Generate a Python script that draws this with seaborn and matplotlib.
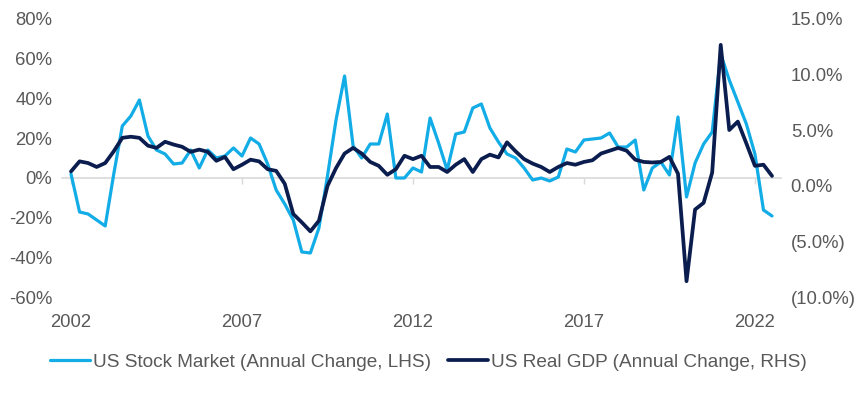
import numpy as np
import pandas as pd
import matplotlib
matplotlib.use('Agg')
import matplotlib.pyplot as plt
import seaborn as sns
from matplotlib.ticker import FuncFormatter

# Quarterly annual changes (first point = 2002)
stock_change = [
    2, -17, -18, -21, -24, 2, 26, 31, 39, 21,
    14, 12, 7, 7.5, 14, 5, 14, 10, 11, 15,
    11, 20, 17, 7, -6, -13, -21, -37, -37.5, -25,
    1, 29, 51, 16, 10, 17, 17, 32, 0, 0,
    5, 3, 30, 17.5, 4, 22, 23, 35, 37, 25,
    18, 12, 10, 5, -1, 0, -1.5, 0.5, 14.5, 13,
    19, 19.5, 20, 22.5, 15.5, 15.5, 19, -6, 5, 8,
    1.5, 30.5, -9.5, 7.5, 17, 23, 62, 49, 38, 27,
    12, -16, -19,
]
gdp_change = [
    1.3, 2.2, 2.05, 1.7, 2.05, 3.1, 4.3, 4.4, 4.3, 3.6,
    3.4, 3.95, 3.7, 3.5, 3.05, 3.25, 3.05, 2.25, 2.6, 1.5,
    1.9, 2.35, 2.2, 1.5, 1.35, 0.2, -2.5, -3.25, -4.05, -3.1,
    0.0, 1.6, 2.9, 3.4, 2.9, 2.15, 1.8, 1.0, 1.5, 2.7,
    2.4, 2.7, 1.7, 1.7, 1.25, 1.9, 2.4, 1.25, 2.4, 2.8,
    2.55, 3.9, 3.1, 2.4, 2.0, 1.7, 1.25, 1.7, 2.05, 1.9,
    2.15, 2.3, 2.9, 3.15, 3.4, 3.15, 2.35, 2.15, 2.1, 2.15,
    2.6, 1.1, -8.5, -2.1, -1.5, 1.2, 12.6, 5.0, 5.75, 3.8,
    1.8, 1.9, 0.9,
]
first_year = 2002
year_ticks = [2002, 2007, 2012, 2017, 2022]
left_ticks = [-60, -40, -20, 0, 20, 40, 60, 80]
right_ticks = [-10, -5, 0, 5, 10, 15]

stock_label = 'US Stock Market (Annual Change, LHS)'
gdp_label = 'US Real GDP (Annual Change, RHS)'

quarters = first_year + np.arange(len(stock_change)) * 0.25
df = pd.DataFrame({'quarter': quarters, 'stock': stock_change, 'gdp': gdp_change})

sns.set_style('white')
plt.rcParams['font.family'] = ['Liberation Sans', 'DejaVu Sans']

light_blue = '#12ACE6'
navy = '#0B1D4E'
grey_text = '#595959'

fig = plt.figure(figsize=(8.65, 3.95), dpi=100)
ax = fig.add_axes([0.0717, 0.2456, 0.8312, 0.7088])
ax2 = ax.twinx()

sns.lineplot(data=df, x='quarter', y='stock', ax=ax, color=light_blue,
             linewidth=2.3, label=stock_label, legend=False)
sns.lineplot(data=df, x='quarter', y='gdp', ax=ax2, color=navy,
             linewidth=2.7, label=gdp_label, legend=False)

ax.set_xlim(2001.737, 2022.763)
ax.set_ylim(-60, 80)
ax2.set_ylim(-10, 15)

ax.set_xlabel('')
ax.set_ylabel('')
ax2.set_ylabel('')

for a in (ax, ax2):
    for s in a.spines.values():
        s.set_visible(False)

# zero line doubles as the x axis
ax.spines['bottom'].set_visible(True)
ax.spines['bottom'].set_position(('data', 0))
ax.spines['bottom'].set_color('#D9D9D9')
ax.spines['bottom'].set_linewidth(1.2)
ax.spines['bottom'].set_zorder(0)

ax.set_xticks(year_ticks)
ax.set_xticklabels([str(y) for y in year_ticks])
ax.tick_params(axis='x', bottom=True, length=4, width=1, color='#D9D9D9',
               pad=94, labelsize=13.3, labelcolor=grey_text)

ax.set_yticks(left_ticks)
ax.yaxis.set_major_formatter(FuncFormatter(lambda v, p: f'{v:.0f}%'))
ax.tick_params(axis='y', left=False, length=0, pad=7, labelsize=13.3, labelcolor=grey_text)

ax2.set_yticks(right_ticks)
ax2.yaxis.set_major_formatter(
    FuncFormatter(lambda v, p: f'({abs(v):.1f}%)' if v < 0 else f'{v:.1f}%'))
ax2.tick_params(axis='y', right=False, length=0, pad=7, labelsize=13.3, labelcolor=grey_text)

ax.grid(False)
ax2.grid(False)

h1, l1 = ax.get_legend_handles_labels()
h2, l2 = ax2.get_legend_handles_labels()
fig.legend(h1 + h2, l1 + l2, loc='center', bbox_to_anchor=(0.495, 0.083),
           ncol=2, frameon=False, fontsize=13.7, handlelength=2.1,
           handletextpad=0.15, columnspacing=0.9, labelcolor=grey_text)

fig.savefig('out.png', dpi=100)
